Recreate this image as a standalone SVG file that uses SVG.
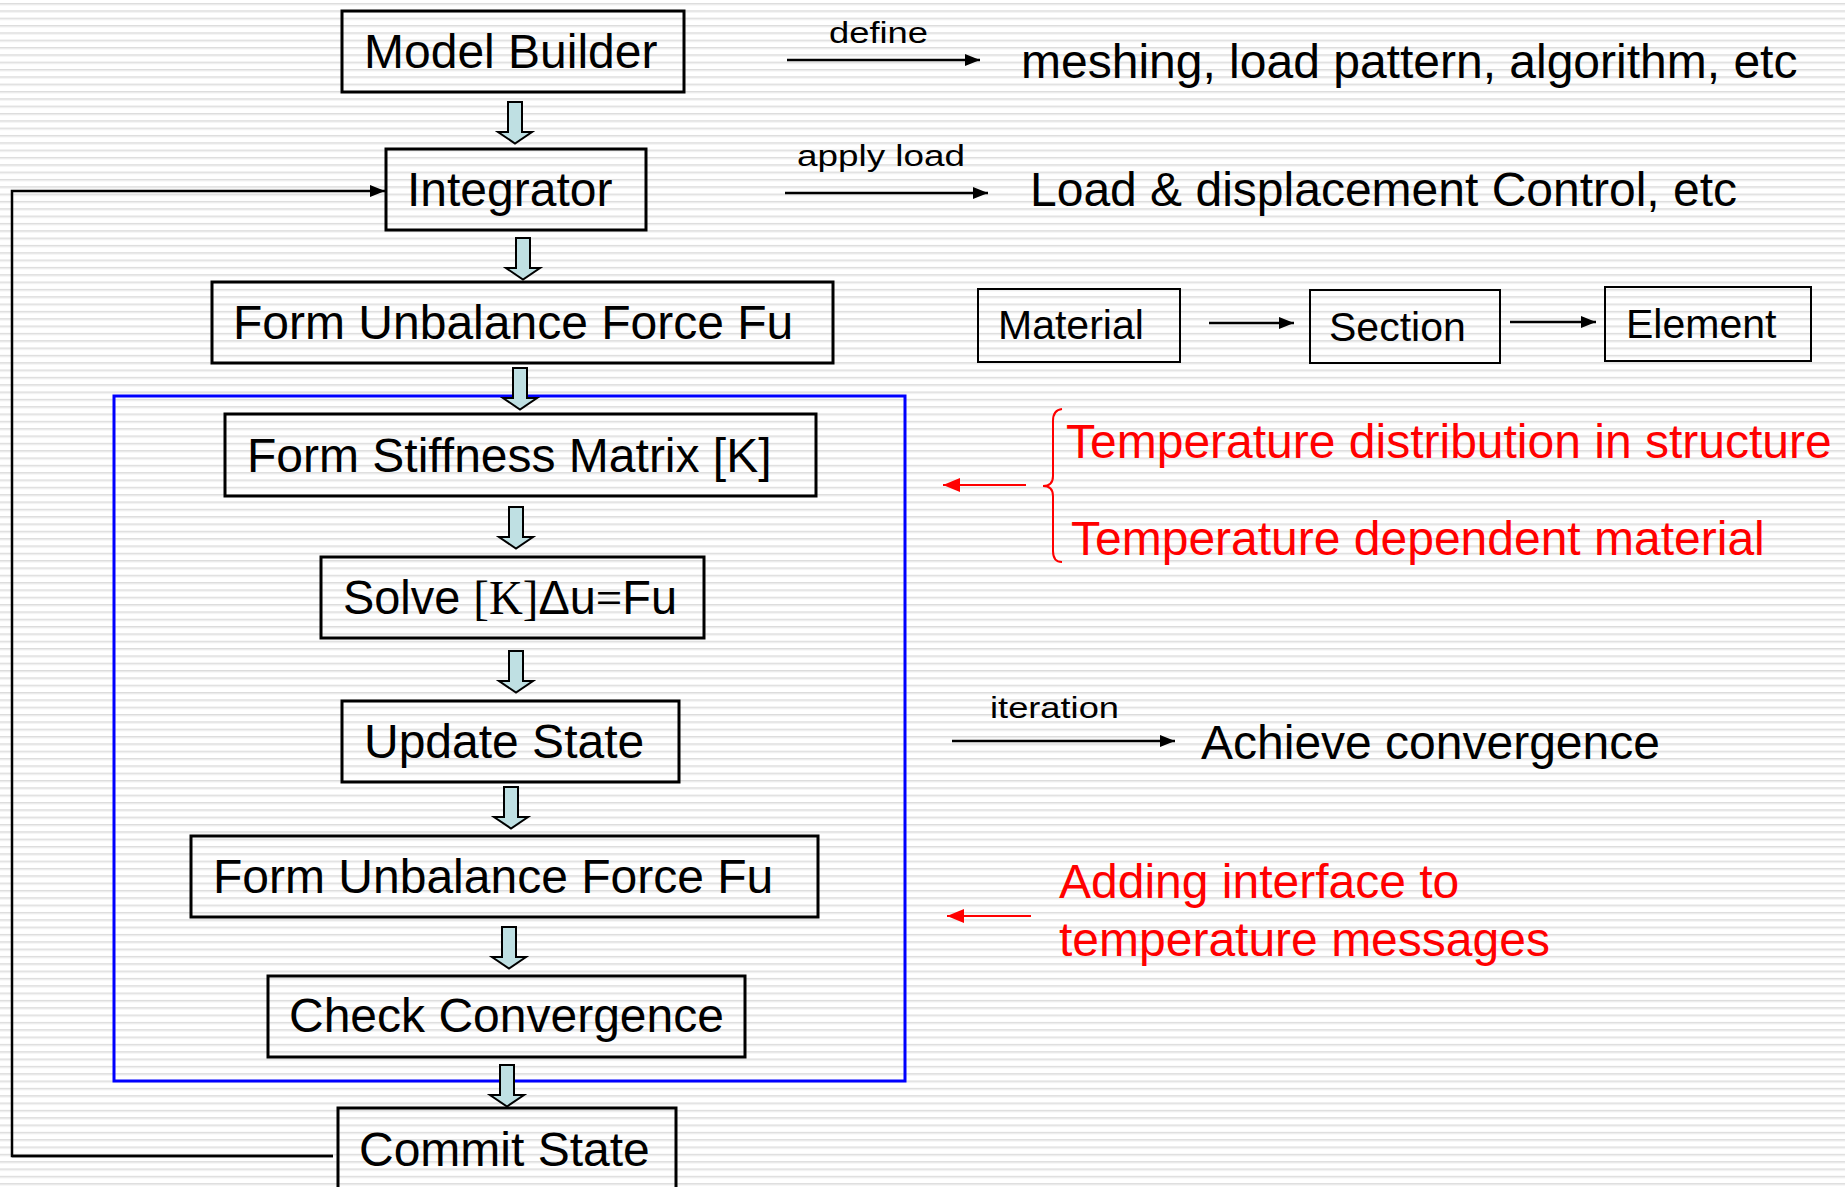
<svg xmlns="http://www.w3.org/2000/svg" width="1845" height="1187" viewBox="0 0 1845 1187">
<defs>
<pattern id="stripes" patternUnits="userSpaceOnUse" x="0" y="3" width="40" height="7.33">
<rect x="0" y="0" width="40" height="1" fill="#dcdcdc"/>
<rect x="0" y="1" width="40" height="1.2" fill="#e9e9e9"/>
</pattern>
<marker id="ah" markerUnits="userSpaceOnUse" markerWidth="15" markerHeight="12" refX="15" refY="6" orient="auto"><path d="M0,0 L15,6 L0,12 z" fill="#000"/></marker>
<marker id="ahr" markerUnits="userSpaceOnUse" markerWidth="17" markerHeight="14" refX="17" refY="7" orient="auto"><path d="M0,0 L17,7 L0,14 z" fill="#ff0000"/></marker>
<path id="barrow" d="M-7,0 h14 v30 h10 l-17,11.5 l-17,-11.5 h10 z"/>
</defs>
<style>
.box{fill:none;stroke:#000;stroke-width:3}
.sbox{fill:none;stroke:#000;stroke-width:2}
.t{font-family:"Liberation Sans",Arial,sans-serif;font-size:48px;fill:#000}
.m{font-family:"Liberation Sans",Arial,sans-serif;font-size:41px;fill:#000}
.s{font-family:"Liberation Sans",Arial,sans-serif;font-size:29px;fill:#000}
.r{font-family:"Liberation Sans",Arial,sans-serif;font-size:48px;fill:#ff0000}
.ser{font-family:"Liberation Serif","Times New Roman",serif}
.ba{fill:#bfe0e3;stroke:#000;stroke-width:2}
.ln{fill:none;stroke:#000;stroke-width:2.5}
.rl{fill:none;stroke:#ff0000;stroke-width:2}
</style>
<rect x="0" y="0" width="1845" height="1187" fill="#fff"/>
<rect x="0" y="0" width="1845" height="1187" fill="url(#stripes)"/>

<g id="loop-box"><rect x="114" y="396" width="791" height="685" fill="none" stroke="#0000ff" stroke-width="3"/></g>

<g id="connectors">
<use href="#barrow" class="ba" x="515" y="102"/>
<use href="#barrow" class="ba" x="523" y="238"/>
<use href="#barrow" class="ba" x="520" y="368"/>
<use href="#barrow" class="ba" x="516" y="507"/>
<use href="#barrow" class="ba" x="516" y="651"/>
<use href="#barrow" class="ba" x="511" y="787"/>
<use href="#barrow" class="ba" x="509" y="927"/>
<use href="#barrow" class="ba" x="507" y="1065"/>
<polyline class="ln" points="333,1156 12,1156 12,191 385,191" stroke-width="2" marker-end="url(#ah)"/>
<line class="ln" x1="12" y1="1156" x2="333" y2="1156" stroke-width="3"/>
<line class="ln" x1="787" y1="60" x2="980" y2="60" marker-end="url(#ah)"/>
<line class="ln" x1="785" y1="193" x2="988" y2="193" marker-end="url(#ah)"/>
<line class="ln" x1="1209" y1="323" x2="1294" y2="323" marker-end="url(#ah)"/>
<line class="ln" x1="1510" y1="322" x2="1596" y2="322" marker-end="url(#ah)"/>
<line class="ln" x1="952" y1="741" x2="1175" y2="741" marker-end="url(#ah)"/>
<line class="rl" x1="1026" y1="485" x2="943" y2="485" marker-end="url(#ahr)"/>
<line class="rl" x1="1031" y1="916" x2="947" y2="916" marker-end="url(#ahr)"/>
<path class="rl" d="M1062,409 Q1053,410 1053,421 L1053,476 Q1053,486 1043,486 Q1053,486 1053,496 L1053,551 Q1053,562 1062,562"/>
</g>

<g id="model-builder"><rect class="box" x="342" y="11" width="342" height="81"/><text class="t" x="364" y="68">Model Builder</text></g>
<g id="integrator"><rect class="box" x="386" y="149" width="260" height="81"/><text class="t" x="407" y="206">Integrator</text></g>
<g id="form-unbalance-1"><rect class="box" x="212" y="282" width="621" height="81"/><text class="t" x="233" y="339">Form Unbalance Force Fu</text></g>
<g id="form-stiffness"><rect class="box" x="225" y="414" width="591" height="82"/><text class="t" x="247" y="472">Form Stiffness Matrix [K]</text></g>
<g id="solve"><rect class="box" x="321" y="557" width="383" height="81"/><text class="t" x="343" y="614" textLength="334" lengthAdjust="spacingAndGlyphs">Solve <tspan class="ser">[K]</tspan>Δu<tspan class="ser">=</tspan>Fu</text></g>
<g id="update-state"><rect class="box" x="342" y="701" width="337" height="81"/><text class="t" x="364" y="758">Update State</text></g>
<g id="form-unbalance-2"><rect class="box" x="191" y="836" width="627" height="81"/><text class="t" x="213" y="893">Form Unbalance Force Fu</text></g>
<g id="check-convergence"><rect class="box" x="268" y="976" width="477" height="81"/><text class="t" x="289" y="1032">Check Convergence</text></g>
<g id="commit-state"><rect class="box" x="338" y="1108" width="338" height="100"/><text class="t" x="359" y="1166">Commit State</text></g>

<g id="define-label"><text class="s" x="829" y="43" textLength="99" lengthAdjust="spacingAndGlyphs">define</text></g>
<g id="meshing"><text class="t" x="1021" y="78">meshing, load pattern, algorithm, etc</text></g>
<g id="apply-label"><text class="s" x="797" y="166" textLength="168" lengthAdjust="spacingAndGlyphs">apply load</text></g>
<g id="load-control"><text class="t" x="1030" y="206">Load &amp; displacement Control, etc</text></g>
<g id="material"><rect class="sbox" x="978" y="289" width="202" height="73"/><text class="m" x="998" y="339">Material</text></g>
<g id="section"><rect class="sbox" x="1310" y="290" width="190" height="73"/><text class="m" x="1329" y="341">Section</text></g>
<g id="element"><rect class="sbox" x="1605" y="287" width="206" height="74"/><text class="m" x="1626" y="338">Element</text></g>
<g id="temp-notes"><text class="r" x="1066" y="458">Temperature distribution in structure</text><text class="r" x="1071" y="555">Temperature dependent material</text></g>
<g id="iteration-label"><text class="s" x="990" y="718" textLength="129" lengthAdjust="spacingAndGlyphs">iteration</text></g>
<g id="achieve"><text class="t" x="1201" y="759">Achieve convergence</text></g>
<g id="adding-interface"><text class="r" x="1059" y="898">Adding interface to</text><text class="r" x="1059" y="956">temperature messages</text></g>
</svg>
